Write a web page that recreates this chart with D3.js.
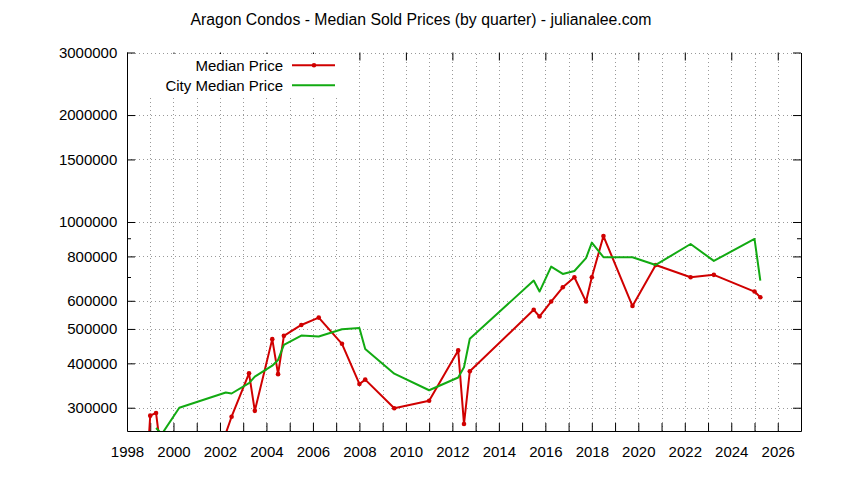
<!DOCTYPE html>
<html>
<head>
<meta charset="utf-8">
<script src="https://cdn.jsdelivr.net/npm/d3@7"></script>
<style>
  body { margin: 0; background: #fff; }
  text { font-family: "Liberation Sans", Arial, sans-serif; fill: #000; }
</style>
</head>
<body>
<div id="container"></div>
<script>
// quarter dates (decimal years) and median prices
var medianYears = [1998.75, 1999.0, 1999.25, 1999.5, 2002.25, 2002.5, 2003.25, 2003.5,
    2004.25, 2004.5, 2004.75, 2005.5, 2006.25, 2007.25, 2008.0, 2008.25, 2009.5,
    2011.0, 2012.25, 2012.5, 2012.75, 2015.5, 2015.75, 2016.25, 2016.75, 2017.25,
    2017.75, 2018.0, 2018.5, 2019.75, 2020.75, 2022.25, 2023.25, 2025.0, 2025.25];
var medianPrices = [158000, 285000, 290000, 214000, 254000, 283000, 375000, 294000,
    468000, 373000, 478000, 513000, 538000, 454000, 350000, 360000, 299000,
    314000, 435000, 270000, 380000, 566000, 542000, 597000, 655000, 699000,
    597000, 699000, 913000, 580000, 757000, 699000, 710000, 637000, 614000];

var cityYears = [1999.25, 1999.5, 2000.25, 2002.25, 2002.5, 2003.25, 2003.5,
    2004.25, 2004.5, 2004.75, 2005.5, 2006.25, 2007.25, 2008.0, 2008.25, 2009.5,
    2011.0, 2012.25, 2012.5, 2012.75, 2015.5, 2015.75, 2016.25, 2016.75, 2017.25,
    2017.75, 2018.0, 2018.5, 2019.75, 2020.75, 2022.25, 2023.25, 2025.0, 2025.25];
var cityPrices = [263000, 253000, 300000, 331000, 329000, 352000, 367000,
    394000, 409000, 451000, 479000, 476000, 499000, 503000, 439000, 374000,
    336000, 365000, 390000, 469000, 684000, 637000, 749000, 714000, 728000,
    791000, 875000, 796000, 796000, 757000, 867000, 777000, 896000, 684000];

var yTicks = [300000, 400000, 500000, 600000, 800000, 1000000, 1500000, 2000000, 3000000];
var yMinorTicks = [700000, 900000];
var xTicks = d3.range(1998, 2027);

var titleText = 'Aragon Condos - Median Sold Prices (by quarter) - julianalee.com';
var seriesNames = ['Median Price', 'City Median Price'];

var width = 844;
var height = 480;
var plotLeft = 127, plotRight = 801, plotTop = 52.5, plotBottom = 431;
var red = '#d00000';
var green = '#12aa12';

var svg = d3.select('#container').append('svg')
    .attr('width', width)
    .attr('height', height);

var x = d3.scaleLinear().domain([1998, 2027]).range([plotLeft, plotRight]);
var y = d3.scaleLog().domain([258000, 3000000]).range([plotBottom, plotTop]);

svg.append('text')
    .attr('x', 421)
    .attr('y', 25)
    .attr('text-anchor', 'middle')
    .style('font-size', '15.8px')
    .text(titleText);

// grid
var grid = svg.append('g')
    .attr('stroke', '#999')
    .attr('stroke-width', 1)
    .attr('stroke-dasharray', '1,3');
grid.selectAll('line.gx')
    .data(xTicks.slice(1))
    .enter().append('line')
    .attr('class', 'gx')
    .attr('x1', function (d) { return Math.round(x(d)) + 0.5; })
    .attr('x2', function (d) { return Math.round(x(d)) + 0.5; })
    .attr('y1', plotBottom)
    .attr('y2', plotTop);
grid.selectAll('line.gy')
    .data(yTicks)
    .enter().append('line')
    .attr('class', 'gy')
    .attr('x1', plotLeft)
    .attr('x2', plotRight)
    .attr('y1', function (d) { return Math.round(y(d)) + 0.5; })
    .attr('y2', function (d) { return Math.round(y(d)) + 0.5; });

// axes
var xAxis = d3.axisBottom(x)
    .tickValues(xTicks)
    .tickSizeInner(-8)
    .tickSizeOuter(0)
    .tickPadding(15.6)
    .tickFormat(function (d) { return d % 2 === 0 ? d : ''; });
svg.append('g')
    .attr('transform', 'translate(0,' + plotBottom + ')')
    .call(xAxis)
    .call(function (g) {
        g.selectAll('text').style('font-size', '15px').attr('fill', '#000');
    });

svg.append('g')
    .attr('transform', 'translate(0,' + plotTop + ')')
    .call(d3.axisTop(x)
        .tickValues(xTicks.filter(function (d) { return d % 2 === 0; }))
        .tickSizeInner(-8)
        .tickFormat(''))
    .call(function (g) { g.select('.domain').remove(); });

svg.append('g')
    .attr('transform', 'translate(' + plotLeft + ',0)')
    .call(d3.axisLeft(y)
        .tickValues(yTicks)
        .tickSizeInner(-8)
        .tickSizeOuter(0)
        .tickPadding(9.7)
        .tickFormat(d3.format('d')))
    .call(function (g) {
        g.selectAll('text').style('font-size', '15px').attr('fill', '#000');
    });
svg.append('g')
    .attr('transform', 'translate(' + plotLeft + ',0)')
    .call(d3.axisLeft(y).tickValues(yMinorTicks).tickSizeInner(-4).tickSizeOuter(0).tickFormat(''))
    .call(function (g) { g.select('.domain').remove(); });

svg.append('g')
    .attr('transform', 'translate(' + plotRight + ',0)')
    .call(d3.axisRight(y).tickValues(yTicks).tickSizeInner(-8).tickSizeOuter(0).tickFormat(''));
svg.append('g')
    .attr('transform', 'translate(' + plotRight + ',0)')
    .call(d3.axisRight(y).tickValues(yMinorTicks).tickSizeInner(-4).tickSizeOuter(0).tickFormat(''))
    .call(function (g) { g.select('.domain').remove(); });

// series
svg.append('clipPath').attr('id', 'plot-clip')
    .append('rect')
    .attr('x', plotLeft).attr('y', plotTop)
    .attr('width', plotRight - plotLeft).attr('height', plotBottom - plotTop);

var plot = svg.append('g').attr('clip-path', 'url(#plot-clip)');

var line = d3.line()
    .x(function (d) { return x(d[0]); })
    .y(function (d) { return y(d[1]); });

var medianData = d3.zip(medianYears, medianPrices);
var cityData = d3.zip(cityYears, cityPrices);

plot.append('path')
    .datum(medianData)
    .attr('d', line)
    .attr('fill', 'none')
    .attr('stroke', red)
    .attr('stroke-width', 2)
    .attr('stroke-linejoin', 'round');
plot.selectAll('circle')
    .data(medianData)
    .enter().append('circle')
    .attr('cx', function (d) { return x(d[0]); })
    .attr('cy', function (d) { return y(d[1]); })
    .attr('r', 2.3)
    .attr('fill', red);

plot.append('path')
    .datum(cityData)
    .attr('d', line)
    .attr('fill', 'none')
    .attr('stroke', green)
    .attr('stroke-width', 2)
    .attr('stroke-linejoin', 'round');

// legend
var legend = svg.append('g');
legend.append('rect')
    .attr('x', 140).attr('y', 54)
    .attr('width', 200).attr('height', 41)
    .attr('fill', '#fff');
var legendRows = legend.selectAll('g')
    .data(seriesNames)
    .enter().append('g')
    .attr('transform', function (d, i) { return 'translate(0,' + (65.3 + i * 20) + ')'; });
legendRows.append('text')
    .attr('x', 283)
    .attr('y', 5.3)
    .attr('text-anchor', 'end')
    .style('font-size', '15px')
    .text(function (d) { return d; });
legendRows.append('line')
    .attr('x1', 292).attr('x2', 335)
    .attr('stroke', function (d, i) { return i === 0 ? red : green; })
    .attr('stroke-width', 2);
legendRows.filter(function (d, i) { return i === 0; })
    .append('circle')
    .attr('cx', 314).attr('r', 2.3)
    .attr('fill', red);
</script>
</body>
</html>
